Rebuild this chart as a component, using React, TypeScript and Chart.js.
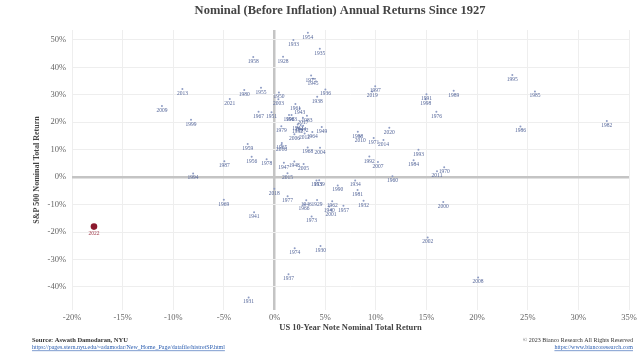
import React, { useEffect, useRef } from "react";
import { Chart, registerables } from "chart.js";

Chart.register(...registerables);

const years = [
  1928, 1929, 1930, 1931, 1932, 1933, 1934, 1935, 1936, 1937,
  1938, 1939, 1940, 1941, 1942, 1943, 1944, 1945, 1946, 1947,
  1948, 1949, 1950, 1951, 1952, 1953, 1954, 1955, 1956, 1957,
  1958, 1959, 1960, 1961, 1962, 1963, 1964, 1965, 1966, 1967,
  1968, 1969, 1970, 1971, 1972, 1973, 1974, 1975, 1976, 1977,
  1978, 1979, 1980, 1981, 1982, 1983, 1984, 1985, 1986, 1987,
  1988, 1989, 1990, 1991, 1992, 1993, 1994, 1995, 1996, 1997,
  1998, 1999, 2000, 2001, 2002, 2003, 2004, 2005, 2006, 2007,
  2008, 2009, 2010, 2011, 2012, 2013, 2014, 2015, 2016, 2017,
  2018, 2019, 2020, 2021, 2022,
];

// S&P 500 nominal total return (%)
const sp500 = [
  43.81, -8.3, -25.12, -43.84, -8.64, 49.98, -1.19, 46.74, 31.94, -35.34,
  29.28, -1.1, -10.67, -12.77, 19.17, 25.06, 19.03, 35.82, -8.43, 5.2,
  5.7, 18.3, 30.81, 23.68, 18.15, -1.21, 52.56, 32.6, 7.44, -10.46,
  43.72, 12.06, 0.34, 26.64, -8.81, 22.61, 16.42, 12.4, -9.97, 23.8,
  10.81, -8.24, 3.56, 14.22, 18.76, -14.31, -25.9, 37.0, 23.83, -6.98,
  6.51, 18.52, 31.74, -4.7, 20.42, 22.34, 6.15, 31.24, 18.49, 5.81,
  16.54, 31.48, -3.06, 30.23, 7.49, 9.97, 1.33, 37.2, 22.68, 33.1,
  28.34, 20.89, -9.03, -11.85, -21.97, 28.36, 10.74, 4.83, 15.61, 5.48,
  -36.55, 25.94, 14.82, 2.1, 15.89, 32.15, 13.52, 1.38, 11.77, 21.61,
  -4.23, 31.21, 18.02, 28.47, -18.01,
];

// US 10-year note nominal total return (%)
const tbond = [
  0.84, 4.2, 4.54, -2.56, 8.79, 1.86, 7.96, 4.47, 5.02, 1.38,
  4.21, 4.41, 5.4, -2.02, 2.29, 2.49, 2.58, 3.8, 3.13, 0.92,
  1.95, 4.66, 0.43, -0.3, 2.27, 4.14, 3.29, -1.34, -2.26, 6.8,
  -2.1, -2.65, 11.64, 2.06, 5.69, 1.68, 3.73, 0.72, 2.91, -1.58,
  3.27, -5.01, 16.75, 9.79, 2.82, 3.66, 1.99, 3.61, 15.98, 1.29,
  -0.78, 0.67, -2.99, 8.2, 32.81, 3.2, 13.73, 25.71, 24.28, -4.96,
  8.22, 17.69, 6.24, 15.0, 9.36, 14.21, -8.04, 23.48, 1.43, 9.94,
  14.92, -8.25, 16.66, 5.57, 15.12, 0.38, 4.49, 2.87, 1.96, 10.21,
  20.1, -11.12, 8.46, 16.04, 2.97, -9.1, 10.75, 1.28, 0.69, 2.8,
  -0.02, 9.64, 11.33, -4.42, -17.83,
];

const highlightYear = 2022;

const yTickValues = [-40, -30, -20, -10, 0, 10, 20, 30, 40, 50];
const xTickValues = [-20, -15, -10, -5, 0, 5, 10, 15, 20, 25, 30, 35];

const titleText = "Nominal (Before Inflation) Annual Returns Since 1927";
const xTitle = "US 10-Year Note Nominal Total Return";
const yTitle = "S&P 500 Nominal Total Return";
const sourceText = "Source: Aswath Damodaran, NYU";
const sourceLink = "https://pages.stern.nyu.edu/~adamodar/New_Home_Page/datafile/histretSP.html";
const copyrightText = "\u00A9 2023 Bianco Research All Rights Reserved";
const copyrightLink = "https://www.biancoresearch.com";

const SERIF = "'Liberation Serif', 'DejaVu Serif', serif";

export default function App() {
  const ref = useRef<HTMLCanvasElement>(null);

  useEffect(() => {
    if (!ref.current) return;
    const pts = years.map((yr, i) => ({ x: tbond[i], y: sp500[i], year: yr }));
    const normal = pts.filter((p) => p.year !== highlightYear);
    const hi = pts.filter((p) => p.year === highlightYear);

    const labelPlugin = {
      id: "yearLabels",
      afterDatasetsDraw(chart: any) {
        const ctx = chart.ctx;
        ctx.save();
        ctx.textAlign = "center";
        ctx.textBaseline = "middle";
        chart.data.datasets.forEach((ds: any, di: number) => {
          const meta = chart.getDatasetMeta(di);
          ctx.fillStyle = ds.labelColor;
          ctx.font = ds.labelFont;
          meta.data.forEach((el: any, i: number) => {
            const p = ds.data[i];
            ctx.fillText(String(p.year), el.x, el.y + ds.labelOffset);
          });
        });
        ctx.restore();
      },
    };

    const textPlugin = {
      id: "texts",
      afterDraw(chart: any) {
        const ctx = chart.ctx;
        ctx.save();
        ctx.textBaseline = "middle";
        ctx.fillStyle = "#444444";
        ctx.font = `bold 12.5px ${SERIF}`;
        ctx.textAlign = "center";
        ctx.fillText(titleText, 340, 11);
        ctx.textAlign = "left";
        ctx.fillStyle = "#333333";
        ctx.font = `bold 6.5px ${SERIF}`;
        ctx.fillText(sourceText, 32, 340);
        ctx.fillStyle = "#2a5db0";
        ctx.font = `6px ${SERIF}`;
        ctx.fillText(sourceLink, 32, 347.5);
        let w = ctx.measureText(sourceLink).width;
        ctx.fillRect(32, 350.5, w, 0.6);
        ctx.textAlign = "right";
        ctx.fillStyle = "#333333";
        ctx.font = `6px ${SERIF}`;
        ctx.fillText(copyrightText, 633, 340);
        ctx.fillStyle = "#2a5db0";
        ctx.fillText(copyrightLink, 633, 347.5);
        w = ctx.measureText(copyrightLink).width;
        ctx.fillRect(633 - w, 350.5, w, 0.6);
        ctx.restore();
      },
    };

    const gridColor = (c: any) => (c.tick && c.tick.value === 0 ? "#c4c4c4" : "#eeeeee");
    const gridWidth = (c: any) => (c.tick && c.tick.value === 0 ? 2.5 : 1);

    const chart = new Chart(ref.current, {
      type: "scatter",
      data: {
        datasets: [
          {
            label: "Years",
            data: normal,
            backgroundColor: "#8e9cc4",
            borderColor: "#8e9cc4",
            pointRadius: 1,
            pointBorderWidth: 0,
            labelColor: "#56679a",
            labelFont: `5.5px ${SERIF}`,
            labelOffset: 4.5,
          } as any,
          {
            label: "2022",
            data: hi,
            backgroundColor: "#8c1a2e",
            borderColor: "#8c1a2e",
            pointRadius: 3.3,
            pointBorderWidth: 0,
            labelColor: "#a03a4a",
            labelFont: `5.5px ${SERIF}`,
            labelOffset: 6.5,
          } as any,
        ],
      },
      options: {
        animation: false,
        responsive: false,
        devicePixelRatio: 1,
        layout: { padding: { left: 28, right: 11, top: 30, bottom: 21 } },
        plugins: {
          legend: { display: false },
          tooltip: { enabled: false },
          title: { display: false },
        },
        scales: {
          x: {
            type: "linear",
            min: -20,
            max: 35,
            afterBuildTicks: (axis: any) => {
              axis.ticks = xTickValues.map((v) => ({ value: v }));
            },
            ticks: {
              callback: (v: any) => `${v}%`,
              font: { family: SERIF, size: 8.5 },
              color: "#666666",
              padding: 3,
              maxRotation: 0,
              autoSkip: false,
            },
            grid: { color: gridColor, lineWidth: gridWidth, drawTicks: false },
            border: { display: false },
            title: {
              display: true,
              text: xTitle,
              font: { family: SERIF, size: 8.5, weight: "bold" },
              color: "#444444",
              padding: 0,
            },
            afterFit: (s: any) => {
              s.height = 23;
            },
          },
          y: {
            type: "linear",
            min: -48.4,
            max: 53.6,
            afterBuildTicks: (axis: any) => {
              axis.ticks = yTickValues.map((v) => ({ value: v }));
            },
            ticks: {
              callback: (v: any) => `${v}%`,
              font: { family: SERIF, size: 8.5 },
              color: "#666666",
              padding: 6,
              autoSkip: false,
            },
            grid: { color: gridColor, lineWidth: gridWidth, drawTicks: false },
            border: { display: false },
            title: {
              display: true,
              text: yTitle,
              font: { family: SERIF, size: 8, weight: "bold" },
              color: "#444444",
              padding: { top: 4, bottom: 0 },
            },
            afterFit: (s: any) => {
              s.width = 44;
            },
          },
        },
      } as any,
      plugins: [labelPlugin, textPlugin],
    });

    return () => chart.destroy();
  }, []);

  return (
    <div style={{ position: "fixed", left: 0, top: 0, width: 640, height: 354, background: "#ffffff" }}>
      <canvas ref={ref} width={640} height={354} style={{ display: "block", width: 640, height: 354 }} />
    </div>
  );
}
